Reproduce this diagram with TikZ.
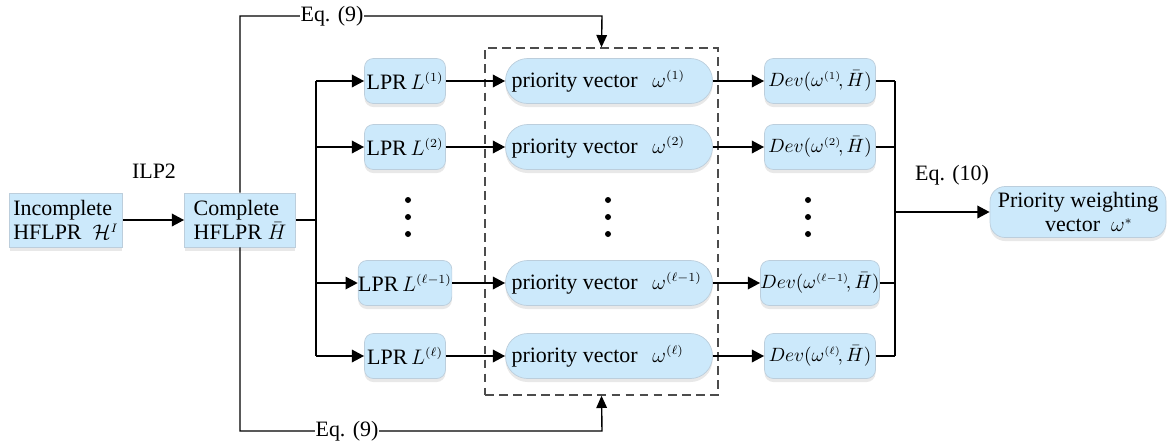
\documentclass[tikz,border=0pt]{standalone}
\usepackage{fontspec}
\setmainfont{Liberation Serif}
\DeclareMathSizes{12.5}{12.5}{7.5}{6}
\DeclareMathSizes{10.5}{10.5}{6.5}{5}
\usetikzlibrary{arrows.meta,shadows}
\definecolor{boxblue}{RGB}{204,233,251}
\definecolor{boxline}{RGB}{188,206,220}
\begin{document}
\begin{tikzpicture}[x=0.02cm,y=-0.02cm,
    font=\rmfamily\fontsize{12.5}{14}\selectfont,
    box/.style={draw=boxline,fill=boxblue,inner sep=1pt,minimum height=0.9cm,
        drop shadow={opacity=0.18,shadow xshift=0pt,shadow yshift=-2pt}},
    lprbox/.style={box,rounded corners=5pt,minimum width=1.62cm,inner xsep=0pt},
    pvbox/.style={box,rounded corners=0.44cm,minimum width=4.14cm,inner xsep=0.12cm},
    devbox/.style={box,rounded corners=5pt,minimum width=2.22cm,inner xsep=0pt,
        font=\rmfamily\fontsize{10.5}{12}\selectfont},
    flow/.style={line width=1.4pt,-{Triangle[length=7pt,width=7pt]}},
    bus/.style={line width=1.4pt},
    eqline/.style={line width=0.8pt,-{Triangle[length=7pt,width=6pt]}},
    eqlabel/.style={fill=white,inner sep=1.5pt}]
    \useasboundingbox (0,0) rectangle (1168,444);
    \node[box,minimum width=2.26cm,minimum height=1.08cm,align=left] (inc) at (66,220) {Incomplete\\HFLPR\ \ $\mathcal{H}^I$};
    \node[box,minimum width=2.22cm,minimum height=1.08cm,align=left] (comp) at (240,220) {Complete\\HFLPR $\bar{H}$};
    \node[eqlabel] (ilp) at (154,171) {ILP2};
    \draw[flow] (inc) -- (comp);
    \node[draw=black!70,dashed,dash pattern=on 5pt off 3pt,line width=0.8pt,
        minimum width=4.66cm,minimum height=6.94cm] (frame) at (601.5,221.5) {};
    \foreach \r/\y/\s in {1/81/1,2/147/2,3/283/\ell{-}1,4/356/\ell} {
        \node[lprbox] (lpr\r) at (405,\y) {LPR\,$L^{(\s)}$};
        \node[pvbox] (pv\r) at (609,\y) {\makebox[3.9cm][l]{priority vector\ \ \,$\omega^{(\s)}$}};
        \node[devbox] (dev\r) at (820,\y) {$Dev(\omega^{(\s)}\!,\bar{H})$};
        \coordinate (bl\r) at (316,\y);
        \coordinate (br\r) at (895,\y);
        \draw[flow] (bl\r) -- (lpr\r);
        \draw[flow] (lpr\r) -- (pv\r);
        \draw[flow] (pv\r) -- (dev\r);
        \draw[bus] (dev\r) -- (br\r);
    }
    \coordinate (bc) at (316,220);
    \draw[bus] (comp) -- (bc);
    \draw[bus] (bl1) -- (bl4);
    \draw[bus] (br1) -- (br4);
    \foreach \x in {408,608,808}
        \foreach \y in {200,217,234}
            \fill (\x,\y) circle (0.06cm);
    \node[box,rounded corners=0.3cm,minimum width=3.52cm,minimum height=1.02cm,align=center] (pw) at (1078,212) {Priority weighting\\\quad vector\ \ $\omega^{*}$};
    \coordinate (bm) at (895,212);
    \draw[flow] (bm) -- (pw);
    \node[eqlabel] (eq10) at (952,175) {Eq. (10)};
    \coordinate (t9) at (602,16);
    \coordinate (b9) at (602,431);
    \draw[eqline] (comp.north) |- (t9) -- (frame.north);
    \draw[eqline] (comp.south) |- (b9) -- (frame.south);
    \node[eqlabel,inner sep=0.5pt] (eq9t) at (332,16) {Eq. (9)};
    \node[eqlabel,inner sep=0.5pt] (eq9b) at (347,431) {Eq. (9)};
\end{tikzpicture}
\end{document}
